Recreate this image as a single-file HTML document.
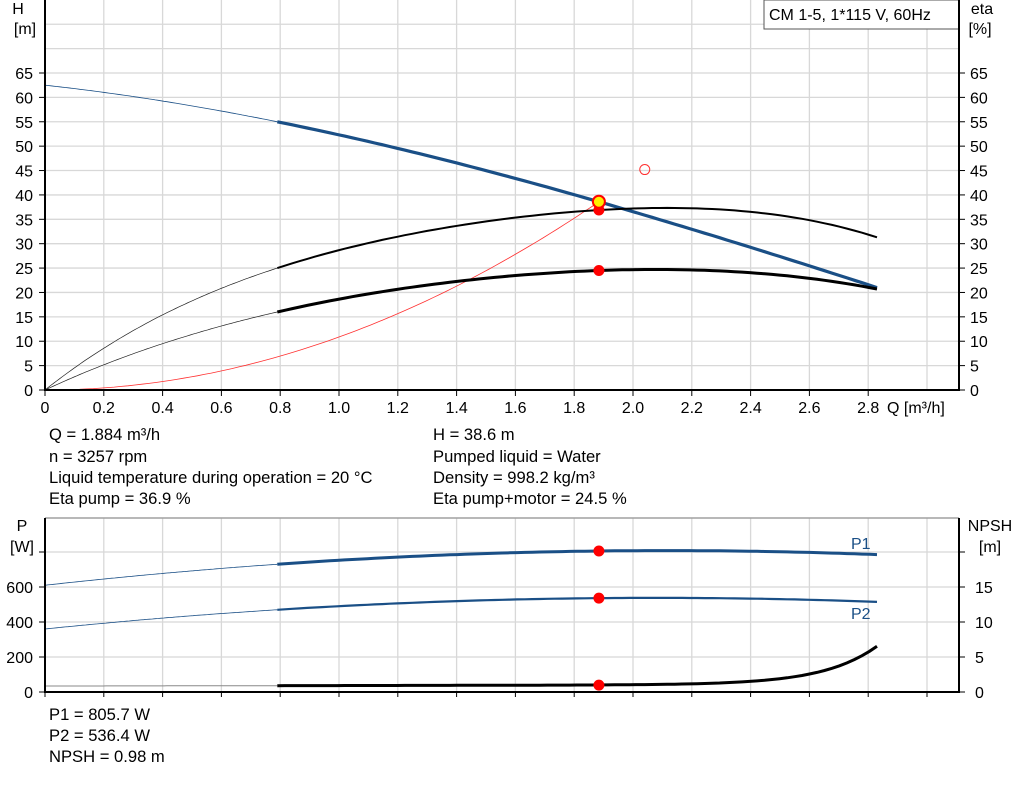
<!DOCTYPE html>
<html><head><meta charset="utf-8"><style>
body{margin:0;background:#fff;width:1024px;height:781px;overflow:hidden;font-family:"Liberation Sans",sans-serif;}
svg text{font-family:"Liberation Sans",sans-serif;font-size:16px;fill:#000;}
svg text.i{font-size:16.6px;}
</style></head><body>
<svg id="s" width="1024" height="781" xmlns="http://www.w3.org/2000/svg">
<g id="grid" stroke="#d8d8d8" stroke-width="1.3" fill="none"></g>
<g id="curves" fill="none"></g>
<g id="lab"></g>
</svg>
<script>
var NS="http://www.w3.org/2000/svg",s=document.getElementById('s');
function el(t,a,p){var e=document.createElementNS(NS,t);for(var k in a)e.setAttribute(k,a[k]);(p||s).appendChild(e);return e;}
var lab=document.getElementById('lab');
function tx(x,y,t,anchor,fill,cls){var e=el('text',{x:x,y:y,'text-anchor':anchor||'start'},lab);if(fill)e.setAttribute('style','fill:'+fill);if(cls)e.setAttribute('class',cls);e.textContent=t;}
var g=document.getElementById('grid'),c=document.getElementById('curves');
function X(q){return 45+294*q;}
function YH(v){return 390-4.877*v;}
function YP(w){return 692-0.175*w;}
function YN(m){return 692-7*m;}
for(var q=0.2;q<3.1;q+=0.2)el('line',{x1:X(q),y1:0,x2:X(q),y2:390},g);
for(var v=5;v<=75;v+=5)el('line',{x1:45,y1:YH(v),x2:959,y2:YH(v)},g);
for(var q=0.2;q<3.1;q+=0.2)el('line',{x1:X(q),y1:518,x2:X(q),y2:692},g);
for(var w=200;w<=800;w+=200)el('line',{x1:45,y1:YP(w),x2:959,y2:YP(w)},g);
el('line',{x1:45,y1:0,x2:45,y2:391,stroke:'#000','stroke-width':2});
el('line',{x1:44,y1:390,x2:960,y2:390,stroke:'#000','stroke-width':2});
el('line',{x1:959,y1:0,x2:959,y2:391,stroke:'#000','stroke-width':2});
el('line',{x1:45,y1:518,x2:959,y2:518,stroke:'#a0a0a0','stroke-width':1.5});
el('line',{x1:45,y1:518,x2:45,y2:693,stroke:'#000','stroke-width':2});
el('line',{x1:44,y1:692,x2:960,y2:692,stroke:'#000','stroke-width':2});
el('line',{x1:959,y1:518,x2:959,y2:693,stroke:'#000','stroke-width':2});
for(var v=0;v<=65;v+=5){var y=YH(v);el('line',{x1:39,y1:y,x2:45,y2:y,stroke:'#000'});el('line',{x1:959,y1:y,x2:965,y2:y,stroke:'#000'});tx(33,y+6,v,'end');tx(970,y+6,v);}
for(var i=0;i<=14;i++){var q=i*0.2,x=X(q);el('line',{x1:x,y1:390,x2:x,y2:396,stroke:'#000'});tx(x,413,i==0?'0':q.toFixed(1),'middle');}
tx(887,413,'Q [m³/h]');
tx(18,14,'H','middle');tx(25,34,'[m]','middle');
tx(982,14,'eta','middle');tx(980,34,'[%]','middle');
el('rect',{x:764,y:0,width:195,height:29,fill:'#fff',stroke:'#555'},lab);
tx(769,20,'CM 1-5, 1*115 V, 60Hz');
for(var w=0;w<=800;w+=200){var y=YP(w);el('line',{x1:39,y1:y,x2:45,y2:y,stroke:'#000'});if(w<800)tx(33,y+6,w,'end');}
for(var m=0;m<=20;m+=5){var y=YN(m);el('line',{x1:959,y1:y,x2:965,y2:y,stroke:'#000'});if(m<20)tx(975,y+6,m);}
for(var i=0;i<=15;i++){var x=X(i*0.2);el('line',{x1:x,y1:692,x2:x,y2:697,stroke:'#000'});}
tx(22,531,'P','middle');tx(22,552,'[W]','middle');
tx(990,531,'NPSH','middle');tx(990,552,'[m]','middle');
tx(851,549,'P1','start','#1a4f86');tx(851,619,'P2','start','#1a4f86');
var L=[['Q = 1.884 m³/h',49,440],['n = 3257 rpm',49,462],['Liquid temperature during operation = 20 °C',49,483],['Eta pump = 36.9 %',49,504],
['H = 38.6 m',433,440],['Pumped liquid = Water',433,462],['Density = 998.2 kg/m³',433,483],['Eta pump+motor = 24.5 %',433,504],
['P1 = 805.7 W',49,720],['P2 = 536.4 W',49,741],['NPSH = 0.98 m',49,762]];
L.forEach(function(a){tx(a[1],a[2],a[0],'start',null,'i');});
function lag(pts){return function(q){var r=0;for(var i=0;i<pts.length;i++){var t=pts[i][1];for(var j=0;j<pts.length;j++)if(j!=i)t*=(q-pts[j][0])/(pts[i][0]-pts[j][0]);r+=t;}return r;};}
function path(f,Y,a,b,col,w){var d='';for(var k=0;k<=80;k++){var q=a+(b-a)*k/80;d+=(k?'L':'M')+X(q).toFixed(1)+' '+Y(f(q)).toFixed(1);}el('path',{d:d,stroke:col,'stroke-width':w},c);}
var H=lag([[0,62.5],[0.79,55],[1.884,38.6],[2.83,21]]);
var E1=lag([[0,0],[0.4,15.4],[0.79,25],[1.884,36.9],[2.83,31.3]]);
var E2=lag([[0,0],[0.4,9.5],[0.79,16],[1.884,24.5],[2.83,20.7]]);
var P1=lag([[0,610],[0.79,730],[1.884,805.7],[2.83,785]]);
var P2=lag([[0,360],[0.79,470],[1.884,536.4],[2.83,515]]);
var N=function(q){return 0.85+0.07*q+5.5*Math.exp((q-2.83)/0.18);};
var blue='#1a4f86';
path(function(q){return 10.87*q*q;},YH,0,1.884,'#ff3030',0.8);
path(H,YH,0,0.79,blue,0.8);path(H,YH,0.79,2.83,blue,3.2);
path(E1,YH,0,0.79,'#222',0.7);path(E1,YH,0.79,2.83,'#000',2);
path(E2,YH,0,0.79,'#222',0.7);path(E2,YH,0.79,2.83,'#000',3);
path(P1,YP,0,0.79,blue,0.8);path(P1,YP,0.79,2.83,blue,3);
path(P2,YP,0,0.79,blue,0.8);path(P2,YP,0.79,2.83,blue,2.2);
path(N,YN,0,0.79,'#888',1);path(N,YN,0.79,2.83,'#000',3);
var xm=X(1.884);
el('circle',{cx:X(2.04),cy:YH(45.2),r:5,fill:'none',stroke:'#ff3030','stroke-width':1});
el('circle',{cx:xm,cy:YH(36.9),r:5.5,fill:'#f00'});
el('circle',{cx:xm,cy:YH(24.5),r:5.5,fill:'#f00'});
el('circle',{cx:xm,cy:YH(38.6),r:6,fill:'#ffee00',stroke:'#f00','stroke-width':2});
el('circle',{cx:xm,cy:YP(805.7),r:5.5,fill:'#f00'});
el('circle',{cx:xm,cy:YP(536.4),r:5.5,fill:'#f00'});
el('circle',{cx:xm,cy:YN(0.98),r:5.5,fill:'#f00'});
</script>
</body></html>
